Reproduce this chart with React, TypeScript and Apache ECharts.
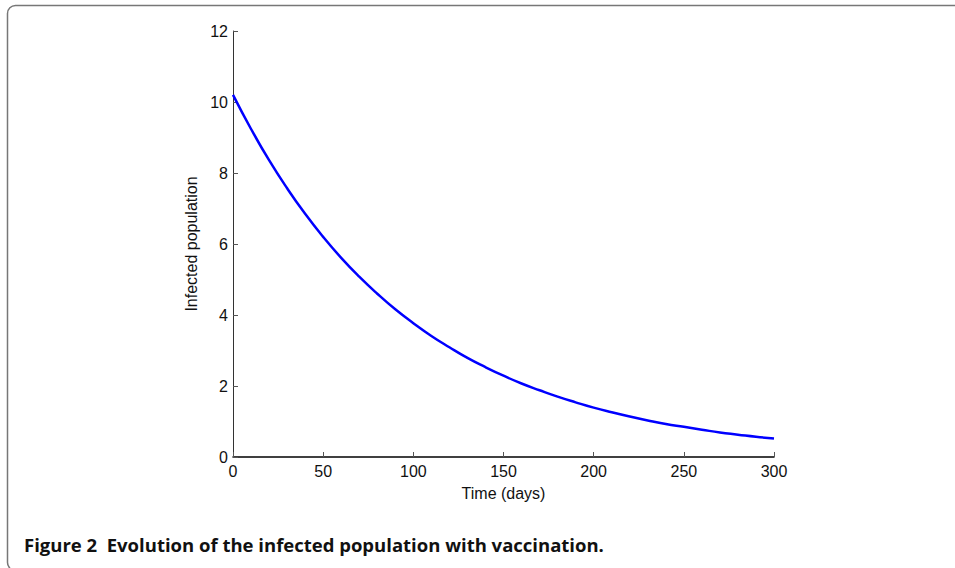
import React, { useEffect, useRef } from "react";
import * as echarts from "echarts";

const days = [0, 10, 20, 30, 40, 50, 60, 70, 80, 90, 100, 110, 120, 130, 140, 150, 160, 170, 180, 190, 200, 210, 220, 230, 240, 250, 260, 270, 280, 290, 300];
const infected = [10.2, 9.24, 8.36, 7.57, 6.85, 6.2, 5.61, 5.08, 4.6, 4.16, 3.77, 3.41, 3.09, 2.79, 2.53, 2.29, 2.07, 1.88, 1.7, 1.54, 1.39, 1.26, 1.14, 1.03, 0.93, 0.85, 0.77, 0.69, 0.63, 0.57, 0.52];
const xTitle = "Time (days)";
const yTitle = "Infected population";
const caption = "Figure 2  Evolution of the infected population with vaccination.";

export default function App() {
  const ref = useRef<HTMLDivElement>(null);
  useEffect(() => {
    const chart = echarts.init(ref.current!, null, { renderer: "svg" });
    const font = "Liberation Sans, Arial, Helvetica, sans-serif";
    chart.setOption({
      animation: false,
      grid: { left: 233, top: 31, right: 181, bottom: 111, containLabel: false },
      xAxis: {
        type: "value",
        min: 0,
        max: 300,
        interval: 50,
        name: xTitle,
        nameLocation: "middle",
        nameGap: 28,
        nameTextStyle: { fontFamily: font, fontSize: 16, color: "#111" },
        axisLine: { show: true, lineStyle: { color: "#000", width: 1.5 } },
        axisTick: { show: true, inside: true, length: 5, lineStyle: { color: "#555" } },
        axisLabel: { fontFamily: font, fontSize: 16, color: "#111", margin: 6 },
        splitLine: { show: false },
      },
      yAxis: {
        type: "value",
        min: 0,
        max: 12,
        interval: 2,
        name: yTitle,
        nameLocation: "middle",
        nameGap: 33,
        nameRotate: 90,
        nameTextStyle: { fontFamily: font, fontSize: 16, color: "#111" },
        axisLine: { show: true, lineStyle: { color: "#333", width: 1 } },
        axisTick: { show: true, inside: true, length: 5, lineStyle: { color: "#555" } },
        axisLabel: { fontFamily: font, fontSize: 16, color: "#111", margin: 5 },
        splitLine: { show: false },
      },
      series: [
        {
          type: "line",
          data: days.map((d, i) => [d, infected[i]]),
          showSymbol: false,
          smooth: true,
          lineStyle: { color: "#0000ff", width: 2.5 },
        },
      ],
      graphic: [
        {
          type: "rect",
          shape: { x: 7.5, y: 5.5, width: 1000, height: 565, r: 8 },
          style: { fill: "none", stroke: "#777", lineWidth: 1.5 },
          silent: true,
        },
        {
          type: "text",
          x: 24,
          y: 535,
          style: {
            text: caption,
            fontFamily: "Open Sans, Noto Sans, sans-serif",
            fontWeight: "bold",
            fontSize: 18.5,
            fill: "#111",
          },
        },
      ],
    });
    return () => chart.dispose();
  }, []);
  return <div ref={ref} style={{ position: "absolute", left: 0, top: 0, width: 955, height: 568 }} />;
}
